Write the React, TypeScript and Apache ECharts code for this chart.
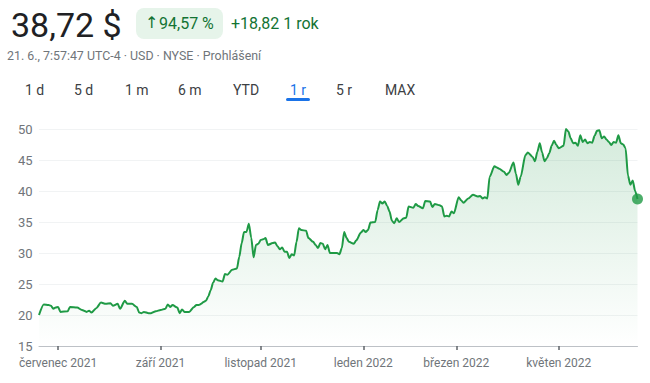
import React, { useEffect, useRef } from "react";
import * as echarts from "echarts";

// Trading-day index (0 = 21 Jun 2021) and closing price in USD
const tradingDays = [
  0, 2, 4, 5, 6, 7, 8, 9, 12, 13, 16, 18, 20, 21, 22, 24, 26, 28, 30, 31, 33, 34, 36, 37, 39, 41, 42, 43, 44, 46, 47, 49,
  51, 53, 54, 55, 56, 58, 59, 60, 61, 63, 65, 66, 67, 68, 69, 70, 71, 72, 73, 74, 75, 77, 78, 79, 81, 83, 84, 85, 86, 87,
  88, 89, 90, 91, 92, 93, 94, 95, 96, 98, 99, 100, 101, 102, 103, 104, 105, 106, 107, 108, 109, 110, 112, 113, 115, 116,
  117, 118, 119, 120, 121, 122, 123, 125, 126, 127, 128, 129, 130, 132, 133, 135, 136, 137, 138, 139, 141, 142, 143, 144,
  145, 146, 147, 148, 149, 150, 151, 153, 154, 155, 157, 158, 159, 161, 162, 164, 165, 166, 168, 169, 170, 171, 172, 173,
  174, 176, 177, 178, 180, 182, 184, 185, 186, 187, 188, 189, 191, 192, 193, 195, 196, 197, 199, 200, 201, 202, 204, 205,
  207, 208, 209, 210, 211, 212, 213, 214, 215, 216, 217, 218, 220, 221, 222, 223, 224, 225, 226, 227, 228, 229, 230, 231,
  232, 233, 234, 235, 236, 237, 238, 239, 240, 241, 242, 243, 244, 245, 246, 247, 248, 249, 250, 251,
];
const prices = [
  20.0, 21.7, 21.6, 21.5, 21.0, 21.2, 21.3, 20.5, 20.6, 21.3, 21.2, 20.8, 20.5, 20.7, 20.4, 21.1, 22.0, 21.8, 21.9, 21.5,
  21.8, 21.0, 22.3, 21.8, 21.8, 21.3, 20.4, 20.3, 20.5, 20.3, 20.3, 20.6,
  20.8, 21.0, 21.7, 21.3, 21.6, 21.2, 20.3, 20.9, 20.5, 20.5, 21.3, 21.6, 21.6, 21.8, 22.1, 22.3, 23.0, 24.0, 25.2, 25.9,
  25.6, 25.4, 26.6, 26.5, 27.3, 27.5, 29.4, 31.6, 33.4, 33.4,
  34.7, 32.5, 29.3, 31.3, 31.5, 32.1, 32.2, 32.4, 31.3, 31.6, 31.7, 31.1, 30.6, 30.9, 30.2, 30.2, 29.2, 29.8, 29.6, 31.8,
  34.0, 33.7, 33.6, 32.4, 31.8, 31.3,
  30.8, 31.6, 31.5, 30.6, 31.3, 30.0, 30.0, 30.0, 29.8, 30.8, 33.4, 32.4, 31.8, 31.5, 32.0, 33.3, 33.7, 33.4, 33.7, 34.9,
  35.0, 36.9, 38.3, 38.0,
  38.3, 37.6, 36.7, 35.2, 34.8, 35.6, 35.0, 35.6, 35.7, 37.5, 37.3, 37.9, 37.6, 37.2, 38.4, 38.3, 37.4, 37.9, 37.7, 37.5,
  35.9, 36.0, 35.9, 36.7,
  36.4, 39.0, 38.5, 38.1, 38.8, 39.4, 39.1, 39.2, 38.8, 39.0, 38.8, 42.3, 44.0, 43.8, 43.6, 43.1, 42.6, 42.9, 44.6, 42.8,
  41.0, 42.3, 45.8, 46.2,
  45.5, 44.8, 46.3, 47.7, 46.2, 44.8, 45.3, 46.1, 47.3, 48.1, 47.4, 46.9, 47.3, 50.0, 49.6, 48.5, 47.7, 47.8, 47.3, 49.0,
  47.9, 48.3, 47.7, 47.9,
  47.8, 48.9, 49.7, 49.8, 48.5, 48.8, 48.3, 47.9, 47.4, 47.9, 47.8, 49.0, 47.7, 47.5, 46.9, 42.5, 41.0, 41.7, 40.0, 38.72,
];

// First trading day of each labelled month
const monthTickDays = [8, 51, 93, 136, 175, 218];
const monthTickLabels = ["červenec 2021", "září 2021", "listopad 2021", "leden 2022", "březen 2022", "květen 2022"];

const yTicks = [15, 20, 25, 30, 35, 40, 45, 50];

const rangeTabs = ["1 d", "5 d", "1 m", "6 m", "YTD", "1 r", "5 r", "MAX"];
const activeTab = "1 r";

const headerPrice = "38,72 $";
const headerArrow = "↑";
const headerChangePct = "94,57 %";
const headerChangeAbs = "+18,82 1 rok";
const headerInfo = "21. 6., 7:57:47 UTC-4 · USD · NYSE · Prohlášení";

const FONT = "Roboto, Arial, sans-serif";
const GREEN = "#1f9a45";

export default function App() {
  const ref = useRef<HTMLDivElement>(null);

  useEffect(() => {
    if (!ref.current) return;
    const chart = echarts.init(ref.current, undefined, { renderer: "svg" });
    const seriesData = tradingDays.map((d, i) => [d, prices[i]]);
    const last = seriesData[seriesData.length - 1];
    const tabX = [25, 74, 125, 178, 233, 290, 336, 385];

    const tabGraphics: any[] = rangeTabs.map((t, i) => ({
      type: "text",
      left: tabX[i],
      top: 83,
      style: {
        text: t,
        font: `400 14px ${FONT}`,
        fill: t === activeTab ? "#1a73e8" : "#3c4043",
      },
    }));

    chart.setOption({
      animation: false,
      backgroundColor: "#ffffff",
      grid: { left: 39, right: 12.5, top: 129, bottom: 37 },
      xAxis: {
        type: "value",
        min: 0,
        max: 251,
        axisLine: { show: true, lineStyle: { color: "#bdc1c6", width: 1 } },
        axisTick: {
          show: true,
          customValues: monthTickDays,
          length: 4,
          lineStyle: { color: "#5f6368", width: 1.5 },
        },
        axisLabel: {
          customValues: monthTickDays,
          formatter: (v: number) => {
            const idx = monthTickDays.indexOf(Math.round(v));
            return idx >= 0 ? monthTickLabels[idx] : "";
          },
          color: "#70757a",
          fontSize: 12,
          fontFamily: FONT,
          margin: 11,
        },
        splitLine: { show: false },
      },
      yAxis: {
        type: "value",
        min: yTicks[0],
        max: yTicks[yTicks.length - 1],
        interval: 5,
        axisLine: { show: false },
        axisTick: { show: false },
        axisLabel: {
          color: "#70757a",
          fontSize: 13,
          fontFamily: FONT,
          align: "left",
          margin: 21,
        },
        splitLine: { show: true, lineStyle: { color: "#f1f3f4", width: 1 } },
      },
      series: [
        {
          type: "line",
          data: seriesData,
          showSymbol: false,
          smooth: 0.25,
          smoothMonotone: "x",
          lineStyle: { color: GREEN, width: 2 },
          itemStyle: { color: GREEN },
          areaStyle: {
            origin: "start",
            color: new echarts.graphic.LinearGradient(0, 0, 0, 1, [
              { offset: 0, color: "rgba(30,150,70,0.27)" },
              { offset: 1, color: "rgba(30,150,70,0)" },
            ]),
          },
          z: 3,
        },
        {
          type: "scatter",
          data: [last],
          symbol: "circle",
          symbolSize: 11,
          itemStyle: { color: GREEN },
          z: 4,
        },
      ],
      graphic: [
        {
          type: "text",
          left: 11,
          top: 8,
          style: { text: headerPrice, font: `400 34px ${FONT}`, fill: "#202124" },
        },
        {
          type: "rect",
          left: 136,
          top: 8,
          shape: { width: 87, height: 31, r: 8 },
          style: { fill: "#e6f4ea" },
        },
        {
          type: "text",
          left: 145,
          top: 14,
          style: { text: headerArrow, font: `400 16px 'DejaVu Sans', sans-serif`, fill: "#137333" },
        },
        {
          type: "text",
          left: 159,
          top: 15,
          style: { text: headerChangePct, font: `400 16px ${FONT}`, fill: "#137333" },
        },
        {
          type: "text",
          left: 231,
          top: 15,
          style: { text: headerChangeAbs, font: `400 16px ${FONT}`, fill: "#137333" },
        },
        {
          type: "text",
          left: 7,
          top: 49,
          style: { text: headerInfo, font: `400 12.4px ${FONT}`, fill: "#70757a" },
        },
        ...tabGraphics,
        {
          type: "rect",
          left: 286,
          top: 98,
          shape: { width: 24, height: 3, r: 1.5 },
          style: { fill: "#1a73e8" },
        },
      ],
    });

    return () => chart.dispose();
  }, []);

  return (
    <div
      ref={ref}
      style={{ position: "absolute", left: 0, top: 0, width: 650, height: 383 }}
    />
  );
}
